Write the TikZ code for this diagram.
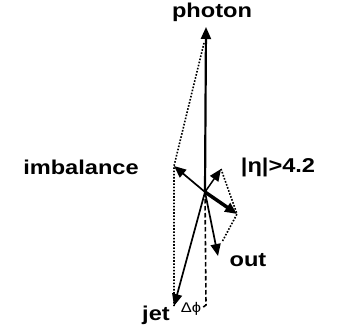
\documentclass[tikz,border=0pt]{standalone}
\usepackage{fontspec}
\setmainfont{Liberation Sans}
\newfontfamily\lblfont[FakeStretch=1.18]{Liberation Sans}
\usetikzlibrary{arrows.meta}

\begin{document}
\begin{tikzpicture}[x=1pt, y=-1pt, >={Triangle[length=12pt,width=10pt]},
  line width=1.7pt,
  lbl/.style={font=\lblfont\bfseries\fontsize{20}{20}\selectfont, inner sep=0pt, anchor=base},
  aux/.style={dash pattern=on 1.6pt off 1.6pt, line width=1.6pt},
  proj/.style={dash pattern=on 4.5pt off 2.5pt, line width=1.6pt}]
  \useasboundingbox (0,0) rectangle (342,331);
  % Origen y puntas de los vectores
  \coordinate (O) at (205,192);
  \coordinate (ph) at (206,27);
  \coordinate (phb) at (204,43);
  \coordinate (imb) at (174,166);
  \coordinate (eta) at (221,169);
  \coordinate (thk) at (237,214);
  \coordinate (out) at (218,256);
  \coordinate (outb) at (222,242);
  \coordinate (jet) at (174,306);
  \coordinate (dphi) at (206,305);
  % Etiquetas
  \node[lbl] (lphoton) at (212,18) {photon};
  \node[lbl] (limb) at (81,175) {imbalance};
  \node[lbl] (leta) at (278,172) {|η|>4.2};
  \node[lbl] (lout) at (248,266) {out};
  \node[lbl] (ljet) at (156,320) {jet};
  \node[font=\lblfont\fontsize{14}{14}\selectfont, inner sep=0pt, anchor=base] (ldphi) at (191,312) {Δϕ};
  % Vectores
  \draw[->, line width=2.2pt] (O) -- (ph);
  \draw[->] (O) -- (imb);
  \draw[->, line width=1.5pt] (O) -- (eta);
  \draw[->, line width=3.5pt] (O) -- (thk);
  \draw[->] (O) -- (out);
  \draw[->] (O) -- (jet);
  % Construcción auxiliar
  \draw[aux] (phb) -- (imb) -- (jet);
  \draw[aux] (eta) -- (thk) -- (outb);
  \draw[proj] (O) -- (dphi) -- ++(-4,3);
\end{tikzpicture}
\end{document}
